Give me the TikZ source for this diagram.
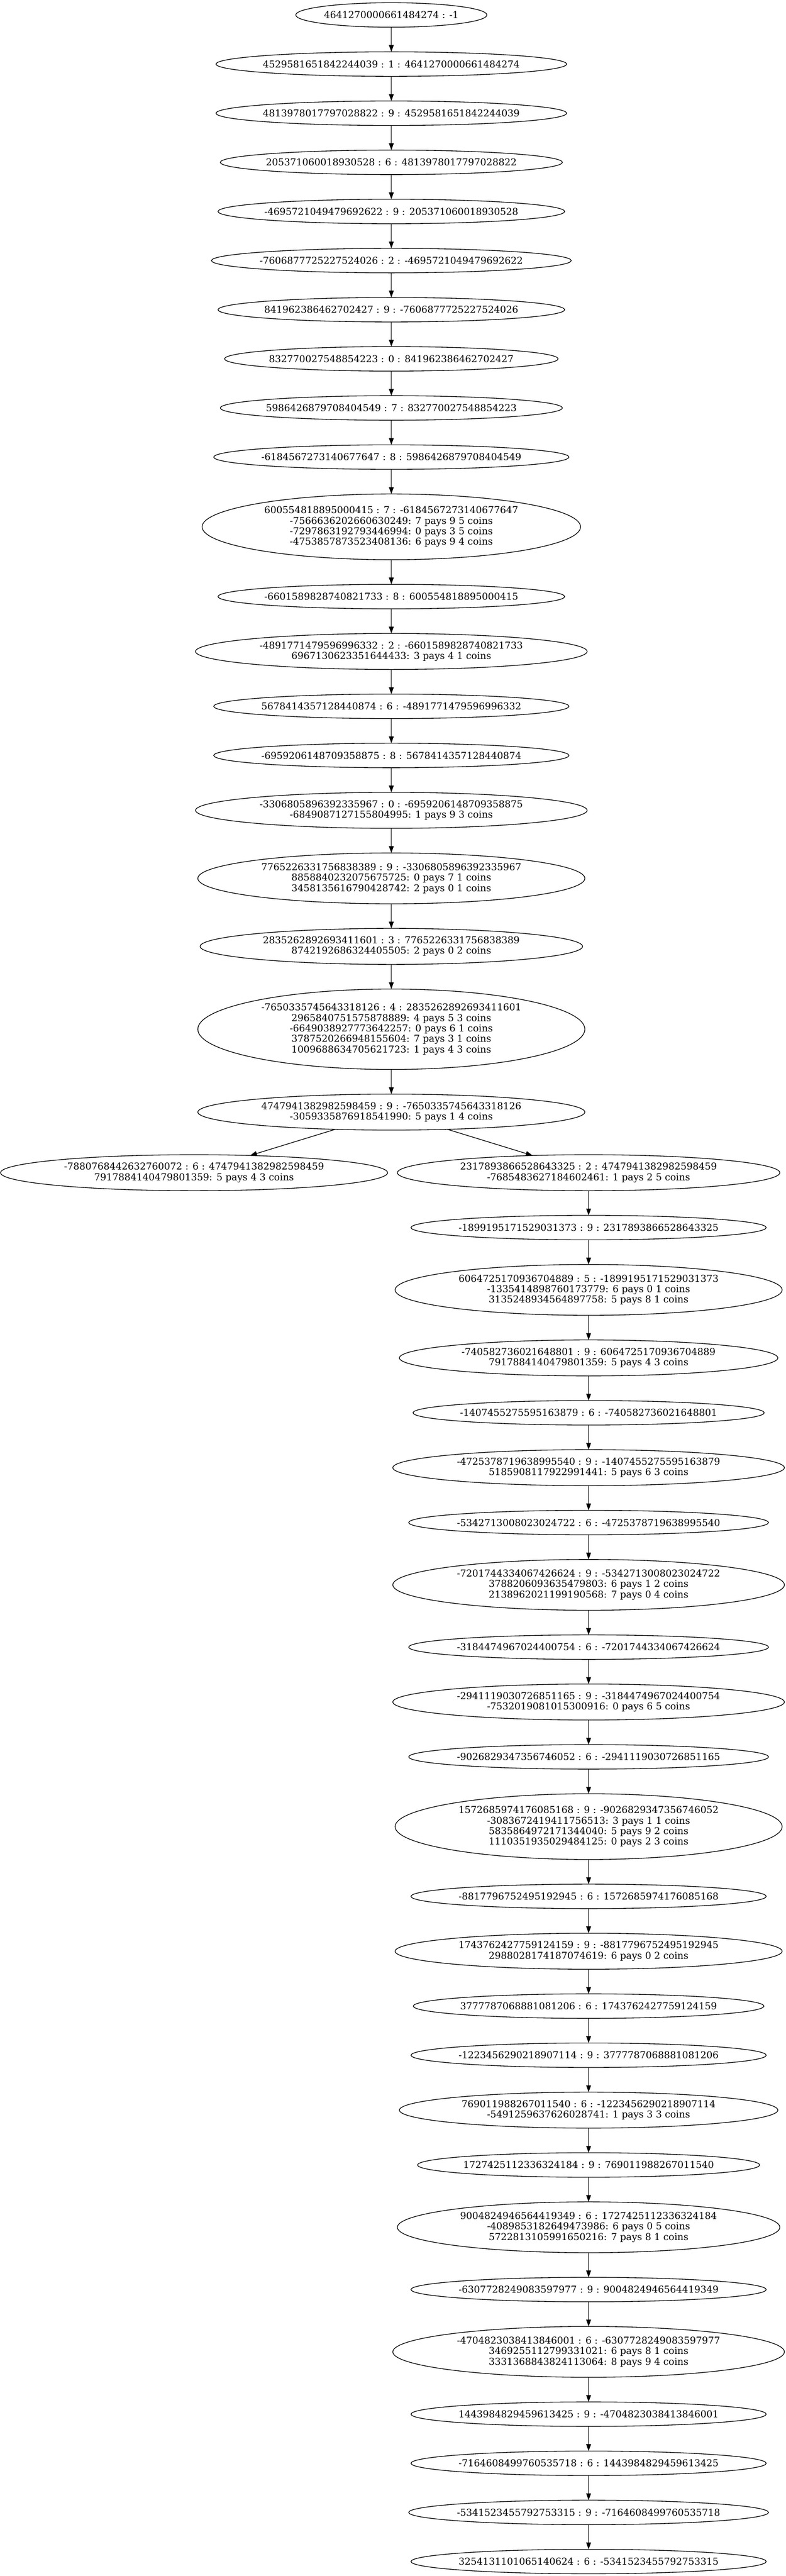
\documentclass[tikz,border=0pt]{standalone}
\usepackage{fontspec}
\setmainfont{DejaVu Serif}
\usepackage{tikz}
\usetikzlibrary{shapes.geometric, positioning, arrows.meta}

\begin{document}
\begin{tikzpicture}[>={Triangle[length=10pt,width=7pt]},node distance=36.2pt,line width=1pt,
                    chain node/.style={ellipse,draw,outer sep=0pt,font=\fontsize{14pt}{15.4pt}\selectfont,
                                       minimum height=36pt,inner xsep=-6.5pt,inner ysep=0pt},
                    coin node/.style={ellipse,draw,outer sep=0pt,align=center,font=\fontsize{14pt}{15.4pt}\selectfont,
                                      inner xsep=10pt,inner ysep=0pt},
                    two rows/.style={coin node,minimum height=52.9pt},
                    three rows/.style={coin node,minimum height=74.7pt},
                    four rows/.style={coin node,minimum height=96.6pt},
                    five rows/.style={coin node,minimum height=118.2pt}]

  \useasboundingbox (-575.3pt,22pt) rectangle (579.7pt,-3764pt);

  % main chain
  \node[chain node,minimum width=281pt] (n1) at (0,0) {4641270000661484274 : -1};
  \node[chain node] (n2) [below=of n1] {4529581651842244039 : 1 : 4641270000661484274};
  \node[chain node] (n3) [below=of n2] {4813978017797028822 : 9 : 4529581651842244039};
  \node[chain node] (n4) [below=of n3] {205371060018930528 : 6 : 4813978017797028822};
  \node[chain node] (n5) [below=of n4] {-4695721049479692622 : 9 : 205371060018930528};
  \node[chain node] (n6) [below=of n5] {-7606877725227524026 : 2 : -4695721049479692622};
  \node[chain node] (n7) [below=of n6] {841962386462702427 : 9 : -7606877725227524026};
  \node[chain node] (n8) [below=of n7] {832770027548854223 : 0 : 841962386462702427};
  \node[chain node] (n9) [below=of n8] {5986426879708404549 : 7 : 832770027548854223};
  \node[chain node] (n10) [below=of n9] {-6184567273140677647 : 8 : 5986426879708404549};
  \node[four rows] (n11) [below=of n10] {600554818895000415 : 7 : -6184567273140677647\\
    -7566636202660630249: 7 pays 9 5 coins\\-7297863192793446994: 0 pays 3 5 coins\\
    -4753857873523408136: 6 pays 9 4 coins};
  \node[chain node] (n12) [below=of n11] {-6601589828740821733 : 8 : 600554818895000415};
  \node[two rows] (n13) [below=of n12] {-4891771479596996332 : 2 : -6601589828740821733\\
    6967130623351644433: 3 pays 4 1 coins};
  \node[chain node] (n14) [below=of n13] {5678414357128440874 : 6 : -4891771479596996332};
  \node[chain node] (n15) [below=of n14] {-6959206148709358875 : 8 : 5678414357128440874};
  \node[two rows] (n16) [below=of n15] {-3306805896392335967 : 0 : -6959206148709358875\\
    -6849087127155804995: 1 pays 9 3 coins};
  \node[three rows] (n17) [below=of n16] {7765226331756838389 : 9 : -3306805896392335967\\
    8858840232075675725: 0 pays 7 1 coins\\3458135616790428742: 2 pays 0 1 coins};
  \node[two rows] (n18) [below=of n17] {2835262892693411601 : 3 : 7765226331756838389\\
    8742192686324405505: 2 pays 0 2 coins};
  \node[five rows] (n19) [below=of n18] {-7650335745643318126 : 4 : 2835262892693411601\\
    2965840751575878889: 4 pays 5 3 coins\\-6649038927773642257: 0 pays 6 1 coins\\
    3787520266948155604: 7 pays 3 1 coins\\1009688634705621723: 1 pays 4 3 coins};
  \node[two rows] (n20) [below=of n19] {4747941382982598459 : 9 : -7650335745643318126\\
    -3059335876918541990: 5 pays 1 4 coins};

  % the two branches
  \node[two rows] (l1) [below=of n20, xshift=-290pt] {-7880768442632760072 : 6 : 4747941382982598459\\
    7917884140479801359: 5 pays 4 3 coins};
  \node[two rows] (r0) [below=of n20, xshift=290pt] {2317893866528643325 : 2 : 4747941382982598459\\
    -7685483627184602461: 1 pays 2 5 coins};

  \node[chain node] (r1) [below=of r0] {-1899195171529031373 : 9 : 2317893866528643325};
  \node[three rows] (r2) [below=of r1] {6064725170936704889 : 5 : -1899195171529031373\\
    -1335414898760173779: 6 pays 0 1 coins\\3135248934564897758: 5 pays 8 1 coins};
  \node[two rows] (r3) [below=of r2] {-740582736021648801 : 9 : 6064725170936704889\\
    7917884140479801359: 5 pays 4 3 coins};
  \node[chain node] (r4) [below=of r3] {-1407455275595163879 : 6 : -740582736021648801};
  \node[two rows] (r5) [below=of r4] {-4725378719638995540 : 9 : -1407455275595163879\\
    5185908117922991441: 5 pays 6 3 coins};
  \node[chain node] (r6) [below=of r5] {-5342713008023024722 : 6 : -4725378719638995540};
  \node[three rows] (r7) [below=of r6] {-7201744334067426624 : 9 : -5342713008023024722\\
    3788206093635479803: 6 pays 1 2 coins\\2138962021199190568: 7 pays 0 4 coins};
  \node[chain node] (r8) [below=of r7] {-3184474967024400754 : 6 : -7201744334067426624};
  \node[two rows] (r9) [below=of r8] {-2941119030726851165 : 9 : -3184474967024400754\\
    -7532019081015300916: 0 pays 6 5 coins};
  \node[chain node] (r10) [below=of r9] {-9026829347356746052 : 6 : -2941119030726851165};
  \node[four rows] (r11) [below=of r10] {1572685974176085168 : 9 : -9026829347356746052\\
    -3083672419411756513: 3 pays 1 1 coins\\5835864972171344040: 5 pays 9 2 coins\\
    1110351935029484125: 0 pays 2 3 coins};
  \node[chain node] (r12) [below=of r11] {-8817796752495192945 : 6 : 1572685974176085168};
  \node[two rows] (r13) [below=of r12] {1743762427759124159 : 9 : -8817796752495192945\\
    2988028174187074619: 6 pays 0 2 coins};
  \node[chain node] (r14) [below=of r13] {3777787068881081206 : 6 : 1743762427759124159};
  \node[chain node] (r15) [below=of r14] {-1223456290218907114 : 9 : 3777787068881081206};
  \node[two rows] (r16) [below=of r15] {769011988267011540 : 6 : -1223456290218907114\\
    -5491259637626028741: 1 pays 3 3 coins};
  \node[chain node] (r17) [below=of r16] {1727425112336324184 : 9 : 769011988267011540};
  \node[three rows] (r18) [below=of r17] {9004824946564419349 : 6 : 1727425112336324184\\
    -4089853182649473986: 6 pays 0 5 coins\\5722813105991650216: 7 pays 8 1 coins};
  \node[chain node] (r19) [below=of r18] {-6307728249083597977 : 9 : 9004824946564419349};
  \node[three rows] (r20) [below=of r19] {-4704823038413846001 : 6 : -6307728249083597977\\
    3469255112799331021: 6 pays 8 1 coins\\3331368843824113064: 8 pays 9 4 coins};
  \node[chain node] (r21) [below=of r20] {1443984829459613425 : 9 : -4704823038413846001};
  \node[chain node] (r22) [below=of r21] {-7164608499760535718 : 6 : 1443984829459613425};
  \node[chain node] (r23) [below=of r22] {-5341523455792753315 : 9 : -7164608499760535718};
  \node[chain node] (r24) [below=of r23] {3254131101065140624 : 6 : -5341523455792753315};

  \draw[->] (n1) to (n2);
  \draw[->] (n2) to (n3);
  \draw[->] (n3) to (n4);
  \draw[->] (n4) to (n5);
  \draw[->] (n5) to (n6);
  \draw[->] (n6) to (n7);
  \draw[->] (n7) to (n8);
  \draw[->] (n8) to (n9);
  \draw[->] (n9) to (n10);
  \draw[->] (n10) to (n11);
  \draw[->] (n11) to (n12);
  \draw[->] (n12) to (n13);
  \draw[->] (n13) to (n14);
  \draw[->] (n14) to (n15);
  \draw[->] (n15) to (n16);
  \draw[->] (n16) to (n17);
  \draw[->] (n17) to (n18);
  \draw[->] (n18) to (n19);
  \draw[->] (n19) to (n20);
  \draw[->] (n20) to (l1);
  \draw[->] (n20) to (r0);

  \draw[->] (r0) to (r1);
  \draw[->] (r1) to (r2);
  \draw[->] (r2) to (r3);
  \draw[->] (r3) to (r4);
  \draw[->] (r4) to (r5);
  \draw[->] (r5) to (r6);
  \draw[->] (r6) to (r7);
  \draw[->] (r7) to (r8);
  \draw[->] (r8) to (r9);
  \draw[->] (r9) to (r10);
  \draw[->] (r10) to (r11);
  \draw[->] (r11) to (r12);
  \draw[->] (r12) to (r13);
  \draw[->] (r13) to (r14);
  \draw[->] (r14) to (r15);
  \draw[->] (r15) to (r16);
  \draw[->] (r16) to (r17);
  \draw[->] (r17) to (r18);
  \draw[->] (r18) to (r19);
  \draw[->] (r19) to (r20);
  \draw[->] (r20) to (r21);
  \draw[->] (r21) to (r22);
  \draw[->] (r22) to (r23);
  \draw[->] (r23) to (r24);

\end{tikzpicture}
\end{document}
